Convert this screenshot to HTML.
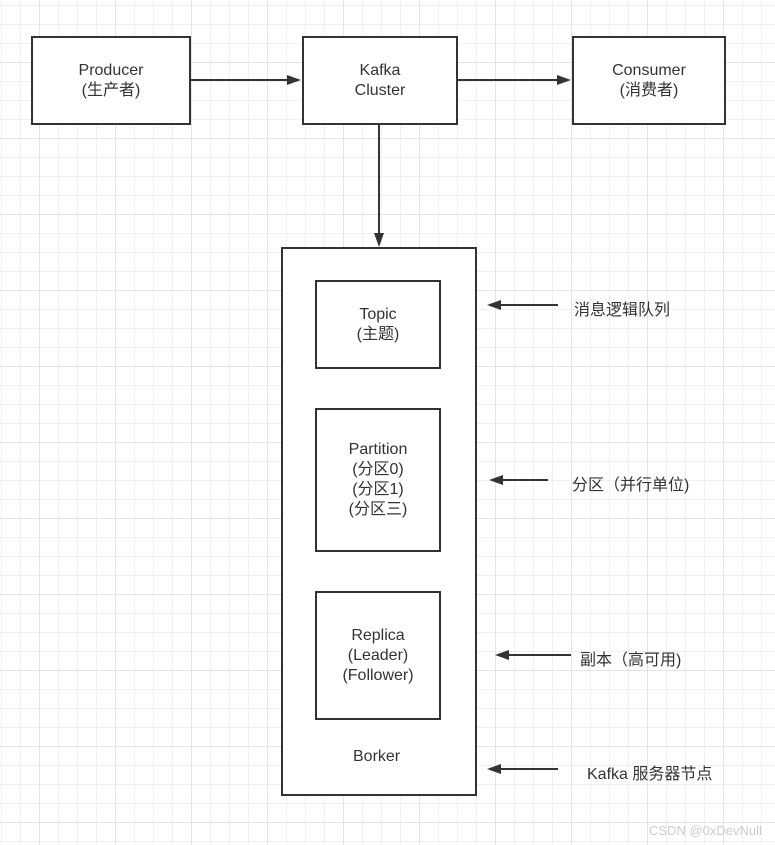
<!DOCTYPE html>
<html><head><meta charset="utf-8"><style>
html,body{margin:0;padding:0;}
body{width:775px;height:845px;position:relative;overflow:hidden;background:#fff;
background-image:
linear-gradient(to right,#e4e4e4 1px,transparent 1px),
linear-gradient(to bottom,#e4e4e4 1px,transparent 1px),
linear-gradient(to right,#f0f0f0 1px,transparent 1px),
linear-gradient(to bottom,#f0f0f0 1px,transparent 1px);
background-size:76px 76px,76px 76px,19px 19px,19px 19px;
background-position:39px 0,0 62px,1px 0,0 5px;
font-family:"Liberation Sans","Noto Sans CJK SC",sans-serif;color:#333;}
.b{position:absolute;border:2px solid #333;background:#fff;box-sizing:border-box;display:flex;align-items:center;justify-content:center;text-align:center;font-size:16px;line-height:20px;}
.t{position:absolute;font-size:16px;white-space:nowrap;}
svg{position:absolute;left:0;top:0;}
</style></head><body>
<div class="b" style="left:281px;top:247px;width:196px;height:549px"></div>
<div class="b" style="left:31px;top:36px;width:160px;height:89px">Producer<br>(生产者)</div>
<div class="b" style="left:302px;top:36px;width:156px;height:89px">Kafka<br>Cluster</div>
<div class="b" style="left:572px;top:36px;width:154px;height:89px">Consumer<br>(消费者)</div>
<div class="b" style="left:315px;top:280px;width:126px;height:89px">Topic<br>(主题)</div>
<div class="b" style="left:315px;top:408px;width:126px;height:144px">Partition<br>(分区0)<br>(分区1)<br>(分区三)</div>
<div class="b" style="left:315px;top:591px;width:126px;height:129px">Replica<br>(Leader)<br>(Follower)</div>
<div class="t" style="left:353px;top:748px">Borker</div>
<div class="t" style="left:574px;top:296px">消息逻辑队列</div>
<div class="t" style="left:572px;top:471px">分区（并行单位)</div>
<div class="t" style="left:580px;top:646px">副本（高可用)</div>
<div class="t" style="left:587px;top:760px">Kafka 服务器节点</div>
<div class="t" style="left:649px;top:823px;font-size:13px;color:#ccc">CSDN @0xDevNull</div>
<svg width="775" height="845">
<g stroke="#333" stroke-width="2" fill="#333">
<line x1="191" y1="80" x2="290" y2="80"/><polygon points="301,80 287,75 287,85" stroke="none"/>
<line x1="458" y1="80" x2="560" y2="80"/><polygon points="571,80 557,75 557,85" stroke="none"/>
<line x1="379" y1="125" x2="379" y2="236"/><polygon points="379,247 374,233 384,233" stroke="none"/>
<line x1="558" y1="305" x2="498" y2="305"/><polygon points="487,305 501,300 501,310" stroke="none"/>
<line x1="548" y1="480" x2="500" y2="480"/><polygon points="489,480 503,475 503,485" stroke="none"/>
<line x1="571" y1="655" x2="506" y2="655"/><polygon points="495,655 509,650 509,660" stroke="none"/>
<line x1="558" y1="769" x2="498" y2="769"/><polygon points="487,769 501,764 501,774" stroke="none"/>
</g></svg>
</body></html>
